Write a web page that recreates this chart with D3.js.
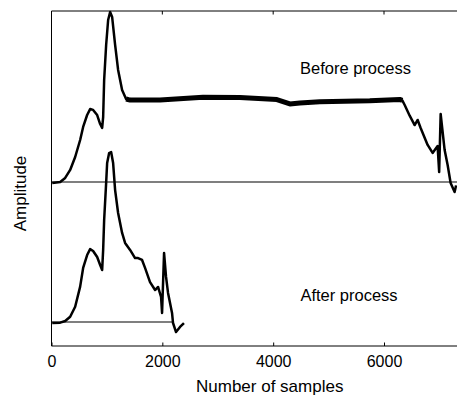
<!DOCTYPE html>
<html>
<head>
<meta charset="utf-8">
<script src="https://cdn.jsdelivr.net/npm/d3@7"></script>
<style>
  html, body { margin: 0; padding: 0; background: #fff; }
  svg { display: block; font-family: "Liberation Sans", Arial, sans-serif; }
</style>
</head>
<body>
<svg id="chart" width="457" height="401"></svg>
<script>
// ---- data (normalised amplitude, each trace relative to its own baseline) ----
const beforeSamples = [13,157,247,337,427,517,571,643,697,751,824,878,914,932,950,986,1022,1058,1094,1148,1202,1274,1346,1418,1958,2733,3400,4067,4301,4481,4842,5743,6283,6330,6373,6463,6553,6607,6661,6787,6877,6967,6995,7022,7094,7148,7202,7274,7300];
const beforeValues  = [-0.006,0,0.024,0.071,0.147,0.247,0.324,0.394,0.429,0.424,0.394,0.341,0.318,0.382,0.6,0.806,0.953,1.0,0.971,0.806,0.659,0.541,0.488,0.482,0.482,0.498,0.497,0.485,0.459,0.465,0.472,0.478,0.486,0.48,0.453,0.39,0.335,0.365,0.318,0.218,0.171,0.212,0.059,0.4,0.188,0.1,-0.006,-0.059,-0.02];

const afterSamples = [13,157,247,337,427,517,571,643,697,751,824,878,914,932,950,986,1004,1040,1076,1112,1148,1202,1274,1328,1418,1508,1562,1634,1688,1778,1869,1923,1977,1995,2031,2067,2103,2175,2193,2247,2319,2390];
const afterValues  = [-0.006,-0.004,0.006,0.031,0.09,0.208,0.318,0.394,0.429,0.418,0.382,0.335,0.306,0.424,0.6,0.818,0.935,0.994,1.0,0.935,0.776,0.641,0.524,0.465,0.424,0.376,0.376,0.365,0.318,0.235,0.188,0.206,0.147,0.053,0.406,0.265,0.171,0.053,-0.006,-0.059,-0.029,-0.006];

const beforeOffset = 0.8235;   // vertical offset of the "before" trace
const afterBaselineEnd = 2180; // sample where the "after" baseline stops
const plateauRange = [1346, 6330]; // noisy plateau section (drawn as a wider band)
const xTicks = [0, 2000, 4000, 6000];
const labels = { before: "Before process", after: "After process", x: "Number of samples", y: "Amplitude" };

// ---- layout ----
const svg = d3.select("#chart");
const pL = 51.5, pR = 457, pT = 11, pB = 346;

const x = d3.scaleLinear().domain([0, 7317]).range([pL, pR]);
const y = d3.scaleLinear().domain([-0.1412, 1.8294]).range([pB, pT]);

// frame
svg.append("line").attr("x1", pL).attr("x2", pL).attr("y1", pT).attr("y2", pB)
  .attr("stroke", "#000").attr("stroke-width", 1);
svg.append("line").attr("x1", pL).attr("x2", 460).attr("y1", pT).attr("y2", pT)
  .attr("stroke", "#000").attr("stroke-width", 1);

// bottom axis
const xAxis = d3.axisBottom(x).tickValues(xTicks).tickSize(0).tickPadding(0).tickFormat(d3.format("d"));
const gx = svg.append("g").attr("transform", `translate(0,${pB})`).call(xAxis);
gx.select(".domain").attr("d", `M${pL},0H460`).attr("stroke", "#000").attr("stroke-width", 1);
gx.selectAll(".tick text").attr("y", 21).attr("dy", 0).attr("font-size", 16)
  .attr("font-family", "Liberation Sans, Arial, sans-serif").attr("fill", "#000");
// inward ticks
gx.selectAll(".tick").append("line").attr("y1", 0).attr("y2", -3.5).attr("stroke", "#000");
svg.append("g").selectAll("line").data(xTicks.filter(d => d > 0)).join("line")
  .attr("x1", d => x(d)).attr("x2", d => x(d)).attr("y1", pT).attr("y2", pT + 3.5)
  .attr("stroke", "#000");

// baselines
svg.append("line").attr("x1", x(0)).attr("x2", 460).attr("y1", y(beforeOffset)).attr("y2", y(beforeOffset))
  .attr("stroke", "#000").attr("stroke-width", 1.2);
svg.append("line").attr("x1", x(0)).attr("x2", x(afterBaselineEnd)).attr("y1", y(0)).attr("y2", y(0))
  .attr("stroke", "#000").attr("stroke-width", 1.2);

// traces
const line = d3.line().x(d => x(d[0])).y(d => y(d[1]));
const beforeData = beforeSamples.map((s, i) => [s, beforeValues[i] + beforeOffset]);
const afterData = afterSamples.map((s, i) => [s, afterValues[i]]);
svg.append("path").datum(beforeData).attr("d", line).attr("fill", "none")
  .attr("stroke", "#000").attr("stroke-width", 2.5).attr("stroke-linejoin", "round");
svg.append("path").datum(beforeData.filter(d => d[0] >= plateauRange[0] && d[0] <= plateauRange[1]))
  .attr("d", line).attr("fill", "none")
  .attr("stroke", "#000").attr("stroke-width", 5).attr("stroke-linejoin", "round");
svg.append("path").datum(afterData).attr("d", line).attr("fill", "none")
  .attr("stroke", "#000").attr("stroke-width", 2.5).attr("stroke-linejoin", "round");

// annotations
svg.append("text").attr("x", 355.5).attr("y", 73.5).attr("text-anchor", "middle")
  .attr("font-size", 16.5).text(labels.before);
svg.append("text").attr("x", 349).attr("y", 300.5).attr("text-anchor", "middle")
  .attr("font-size", 16.5).text(labels.after);
svg.append("text").attr("x", 269.7).attr("y", 391.5).attr("text-anchor", "middle")
  .attr("font-size", 17).text(labels.x);
svg.append("text").attr("transform", "translate(26,193.5) rotate(-90)").attr("text-anchor", "middle")
  .attr("font-size", 17).text(labels.y);
</script>
</body>
</html>
